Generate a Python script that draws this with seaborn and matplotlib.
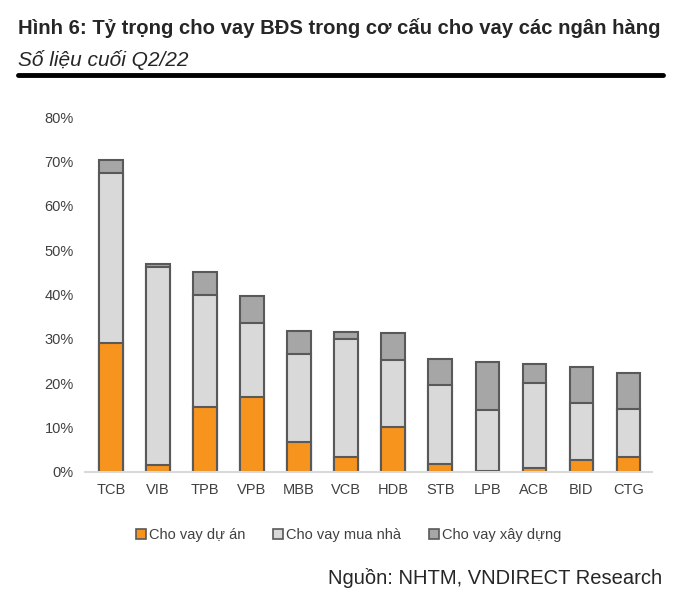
import pandas as pd
import matplotlib
matplotlib.use("Agg")
import matplotlib.pyplot as plt
import matplotlib.patches as mpatches
from matplotlib.lines import Line2D
from matplotlib.ticker import FuncFormatter
import seaborn as sns

# Dữ liệu (% tổng dư nợ cho vay, cuối Q2/22)
banks = ["TCB", "VIB", "TPB", "VPB", "MBB", "VCB", "HDB", "STB", "LPB", "ACB", "BID", "CTG"]
du_an = [29.0, 1.5, 14.7, 17.0, 6.8, 3.4, 10.2, 1.9, 0.2, 1.0, 2.7, 3.4]
mua_nha = [38.3, 44.7, 25.3, 16.6, 19.8, 26.6, 15.0, 17.6, 13.8, 19.0, 12.9, 10.9]
xay_dung = [3.0, 0.6, 5.1, 6.0, 5.2, 1.5, 6.2, 6.0, 10.9, 4.3, 8.0, 8.1]
series_names = ["Cho vay dự án", "Cho vay mua nhà", "Cho vay xây dựng"]

df = pd.DataFrame({"bank": banks, "du_an": du_an, "mua_nha": mua_nha, "xay_dung": xay_dung})
df["lvl2"] = df["du_an"] + df["mua_nha"]
df["lvl3"] = df["lvl2"] + df["xay_dung"]

sns.set_style("white")
plt.rcParams["font.family"] = ["Liberation Sans", "DejaVu Sans"]

colors = ["#F7941D", "#D9D9D9", "#A6A6A6"]
edge = "#595959"

fig = plt.figure(figsize=(6.87, 5.97), dpi=100)
ax = fig.add_axes([0.1237, 0.2094, 0.949 - 0.1237, 0.804 - 0.2094])

# vẽ chồng từ tổng xuống
for col, c in zip(["lvl3", "lvl2", "du_an"], colors[::-1]):
    sns.barplot(data=df, x="bank", y=col, color=c, width=0.5, edgecolor=edge,
                linewidth=1.5, saturation=1, ax=ax)

ax.set_ylim(0, 80)
ax.set_yticks(range(0, 81, 10))
ax.yaxis.set_major_formatter(FuncFormatter(lambda v, p: f"{int(v)}%"))
ax.set_xlabel("")
ax.set_ylabel("")
ax.tick_params(axis="both", length=0, labelsize=10.5, colors="#404040", pad=8)
for s in ["top", "right", "left"]:
    ax.spines[s].set_visible(False)
ax.spines["bottom"].set_color("#D9D9D9")
ax.spines["bottom"].set_linewidth(1.5)
ax.set_xlim(-0.55, 11.5)

handles = [mpatches.Patch(facecolor=c, edgecolor=edge, linewidth=1.2, label=n)
           for c, n in zip(colors, series_names)]
fig.legend(handles=handles, loc="center", bbox_to_anchor=(0.507, 0.104), ncol=3,
           frameon=False, fontsize=10.5, handlelength=0.7, handleheight=0.7,
           handletextpad=0.2, columnspacing=1.9, labelcolor="#404040")

fig.text(0.026, 0.953, "Hình 6: Tỷ trọng cho vay BĐS trong cơ cấu cho vay các ngân hàng",
         fontsize=14.6, fontweight="bold", color="#262626", va="center")
fig.text(0.026, 0.899, "Số liệu cuối Q2/22", fontsize=15, style="italic",
         color="#262626", va="center")
fig.add_artist(Line2D([0.026, 0.965], [0.874, 0.874], color="black", linewidth=3.5,
                      transform=fig.transFigure))
fig.text(0.964, 0.032, "Nguồn: NHTM, VNDIRECT Research", fontsize=14.5, ha="right",
         va="center", color="#262626")

fig.savefig("out.png", dpi=100)
